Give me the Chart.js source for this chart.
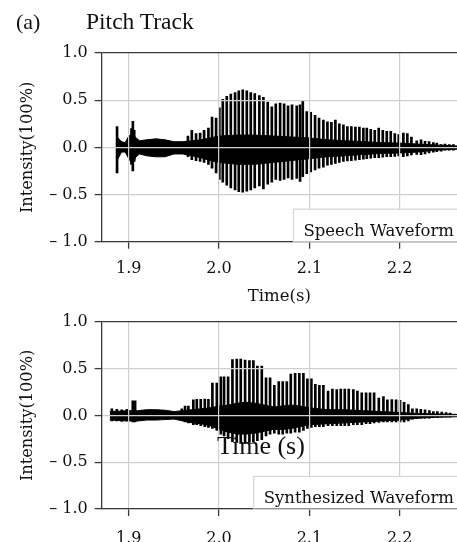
<!DOCTYPE html>
<html>
<head>
<meta charset="utf-8">
<script src="https://cdn.jsdelivr.net/npm/chart.js@4.4.1/dist/chart.umd.min.js"></script>
<style>
  html, body { margin: 0; padding: 0; background: #fff; }
  body { width: 457px; height: 542px; position: relative; overflow: hidden; }
  .box { position: absolute; left: 0; width: 457px; }
  #topBox { top: 0; height: 310px; }
  #botBox { top: 268px; height: 274px; }
  .label { position: absolute; font-family: "Liberation Serif", serif; color: #111; white-space: nowrap; }
</style>
</head>
<body>
<div class="box" id="topBox"><canvas id="speechChart"></canvas></div>
<div class="box" id="botBox"><canvas id="synthChart"></canvas></div>
<div class="label" style="left:16px; top:11px; font-size:22px; line-height:22px;">(a)</div>
<div class="label" style="left:86px; top:10px; font-size:23.5px; line-height:23px;">Pitch Track</div>
<div class="label" style="left:217px; top:433px; font-size:26px; line-height:26px;">Time (s)</div>
<script>
// --- DATA ---
const xTicks = [1.9, 2.0, 2.1, 2.2];
const yTicks = [-1.0, -0.5, 0.0, 0.5, 1.0];
const yTickLabels = ['\u2013 1.0', '\u2013 0.5', '0.0', '0.5', '1.0'];

// Speech waveform: glottal pulse spikes (time, positive peak, negative peak)
const speechPulseTime = [1.8870, 1.9030, 1.9045, 1.9060,
  1.9655, 1.9698, 1.9745, 1.9790, 1.9834, 1.9882, 1.9922, 1.9967, 2.0003, 2.0041,
  2.0085, 2.0130, 2.0177, 2.0218, 2.0262, 2.0307, 2.0351, 2.0395, 2.0446, 2.0491,
  2.0539, 2.0584, 2.0628, 2.0676, 2.0720, 2.0764, 2.0808, 2.0860, 2.0897, 2.0927,
  2.0971, 2.1015, 2.1063, 2.1107, 2.1155, 2.1200, 2.1244, 2.1288, 2.1332, 2.1377,
  2.1421, 2.1465, 2.1510, 2.1554, 2.1598, 2.1636, 2.1680, 2.1724, 2.1768, 2.1813,
  2.1857, 2.1901, 2.1946, 2.1990, 2.2041, 2.2085, 2.2130, 2.2189, 2.2237, 2.2281,
  2.2326, 2.2373, 2.2411, 2.2459, 2.2503, 2.2550, 2.2595];
const speechPulseHigh = [0.22, 0.20, 0.275, 0.18,
  0.12, 0.18, 0.145, 0.15, 0.18, 0.205, 0.32, 0.31, 0.42, 0.51,
  0.54, 0.565, 0.58, 0.60, 0.61, 0.60, 0.58, 0.57, 0.55, 0.53,
  0.48, 0.43, 0.46, 0.47, 0.46, 0.44, 0.45, 0.44, 0.45, 0.49,
  0.38, 0.37, 0.34, 0.31, 0.29, 0.27, 0.265, 0.29, 0.25, 0.24,
  0.22, 0.22, 0.215, 0.215, 0.205, 0.205, 0.19, 0.18, 0.205, 0.18,
  0.17, 0.17, 0.145, 0.135, 0.15, 0.145, 0.11, 0.07, 0.08, 0.065,
  0.06, 0.05, 0.045, 0.03, 0.035, 0.03, 0.03];
const speechPulseLow = [-0.27, -0.18, -0.25, -0.15,
  -0.10, -0.13, -0.14, -0.15, -0.16, -0.18, -0.22, -0.27, -0.34, -0.37,
  -0.40, -0.43, -0.45, -0.47, -0.475, -0.465, -0.45, -0.43, -0.41, -0.44,
  -0.39, -0.37, -0.34, -0.35, -0.34, -0.325, -0.34, -0.33, -0.36, -0.31,
  -0.28, -0.26, -0.24, -0.22, -0.21, -0.19, -0.18, -0.17, -0.16, -0.15,
  -0.145, -0.14, -0.135, -0.13, -0.125, -0.12, -0.115, -0.11, -0.11, -0.105,
  -0.10, -0.10, -0.095, -0.09, -0.10, -0.09, -0.08, -0.075, -0.077, -0.07,
  -0.06, -0.05, -0.045, -0.04, -0.03, -0.03, -0.03];

// Speech waveform: dense band envelope between pulses
const speechBandTime = [1.8865, 1.8880, 1.8920, 1.8960, 1.9000, 1.9040, 1.9080, 1.9120,
  1.9200, 1.9300, 1.9400, 1.9500, 1.9600, 1.9700, 1.9800, 1.9900, 2.0000, 2.0200,
  2.0400, 2.0600, 2.0800, 2.1000, 2.1200, 2.1400, 2.1600, 2.1800, 2.2000, 2.2200,
  2.2400, 2.2635];
const speechBandHigh = [0.02, 0.10, 0.06, 0.05, 0.12, 0.15, 0.10, 0.07,
  0.08, 0.09, 0.08, 0.06, 0.06, 0.07, 0.08, 0.10, 0.12, 0.13,
  0.13, 0.12, 0.11, 0.10, 0.08, 0.07, 0.06, 0.05, 0.045, 0.035,
  0.025, 0.015];
const speechBandLow = [-0.02, -0.12, -0.05, -0.05, -0.12, -0.18, -0.10, -0.07,
  -0.09, -0.10, -0.10, -0.07, -0.07, -0.09, -0.11, -0.14, -0.16, -0.18,
  -0.18, -0.16, -0.14, -0.12, -0.10, -0.09, -0.075, -0.065, -0.06, -0.05,
  -0.03, -0.02];

// Synthesized waveform: pulse spikes
const synthPulseTime = [1.8812, 1.8867, 1.8922, 1.8978, 1.9044, 1.9070,
  1.9587, 1.9623, 1.9660, 1.9715, 1.9753, 1.9797, 1.9842, 1.9882, 1.9926, 1.9975,
  2.0019, 2.0055, 2.0100, 2.0148, 2.0196, 2.0240, 2.0288, 2.0336, 2.0380, 2.0424,
  2.0473, 2.0520, 2.0565, 2.0612, 2.0661, 2.0705, 2.0750, 2.0794, 2.0842, 2.0889,
  2.0934, 2.0978, 2.1022, 2.1066, 2.1111, 2.1155, 2.1207, 2.1255, 2.1303, 2.1348,
  2.1392, 2.1436, 2.1487, 2.1532, 2.1580, 2.1628, 2.1672, 2.1717, 2.1769, 2.1820,
  2.1864, 2.1913, 2.1960, 2.2004, 2.2049, 2.2096, 2.2141, 2.2189, 2.2234, 2.2281,
  2.2329, 2.2373, 2.2417, 2.2466, 2.2514, 2.2558];
const synthPulseHigh = [0.07, 0.065, 0.06, 0.065, 0.155, 0.155,
  0.07, 0.10, 0.10, 0.165, 0.17, 0.17, 0.175, 0.17, 0.345, 0.345,
  0.41, 0.41, 0.41, 0.595, 0.60, 0.60, 0.59, 0.585, 0.585, 0.525,
  0.525, 0.40, 0.40, 0.32, 0.36, 0.36, 0.36, 0.44, 0.45, 0.45,
  0.45, 0.39, 0.39, 0.33, 0.32, 0.32, 0.26, 0.28, 0.275, 0.28,
  0.28, 0.28, 0.275, 0.26, 0.24, 0.24, 0.24, 0.24, 0.185, 0.20,
  0.165, 0.168, 0.165, 0.16, 0.14, 0.115, 0.07, 0.07, 0.065, 0.06,
  0.05, 0.04, 0.04, 0.035, 0.03, 0.025];
const synthPulseLow = [-0.06, -0.06, -0.065, -0.06, -0.07, -0.07,
  -0.05, -0.07, -0.08, -0.10, -0.10, -0.11, -0.12, -0.13, -0.14, -0.16,
  -0.20, -0.22, -0.25, -0.28, -0.29, -0.30, -0.30, -0.29, -0.28, -0.27,
  -0.26, -0.22, -0.20, -0.19, -0.20, -0.20, -0.19, -0.19, -0.18, -0.18,
  -0.16, -0.14, -0.13, -0.12, -0.12, -0.12, -0.11, -0.11, -0.11, -0.11,
  -0.11, -0.11, -0.10, -0.10, -0.10, -0.09, -0.09, -0.08, -0.075, -0.07,
  -0.07, -0.07, -0.07, -0.07, -0.07, -0.06, -0.04, -0.035, -0.03, -0.03,
  -0.03, -0.025, -0.025, -0.02, -0.02, -0.02];

// Synthesized waveform: dense band envelope
const synthBandTime = [1.8790, 1.9000, 1.9100, 1.9200, 1.9300, 1.9400, 1.9500, 1.9600,
  1.9700, 1.9800, 1.9900, 2.0000, 2.0100, 2.0200, 2.0300, 2.0400, 2.0500, 2.0600,
  2.0700, 2.0800, 2.0900, 2.1000, 2.1200, 2.1400, 2.1600, 2.1800, 2.2000, 2.2200,
  2.2400, 2.2635];
const synthBandHigh = [0.04, 0.05, 0.05, 0.06, 0.06, 0.055, 0.04, 0.05,
  0.06, 0.07, 0.08, 0.10, 0.11, 0.13, 0.14, 0.13, 0.11, 0.09,
  0.10, 0.11, 0.10, 0.08, 0.06, 0.06, 0.05, 0.04, 0.03, 0.02,
  0.015, 0.01];
const synthBandLow = [-0.05, -0.06, -0.06, -0.05, -0.05, -0.045, -0.04, -0.06,
  -0.08, -0.09, -0.11, -0.15, -0.18, -0.20, -0.20, -0.19, -0.17, -0.15,
  -0.15, -0.14, -0.12, -0.10, -0.09, -0.08, -0.07, -0.06, -0.05, -0.03,
  -0.02, -0.015];

// --- CHART HELPERS ---
const SERIF = '"DejaVu Serif", serif';
const GRID = '#cfcfcf';
const AXIS = '#3a3a3a';

const legendBoxPlugin = {
  id: 'legendBox',
  afterDraw(chart, args, opts) {
    const {ctx, chartArea} = chart;
    ctx.save();
    ctx.font = '16.5px ' + SERIF;
    const w = ctx.measureText(opts.text).width;
    const x0 = chartArea.right - w - 13;
    const y0 = chartArea.bottom - 32.5;
    ctx.fillStyle = '#fff';
    ctx.fillRect(x0, y0, chartArea.right - x0, chartArea.bottom - y0 - 1);
    ctx.strokeStyle = '#d6d6d6';
    ctx.lineWidth = 1.2;
    ctx.strokeRect(x0, y0, chartArea.right - x0 + 2, chartArea.bottom - y0);
    ctx.fillStyle = '#111';
    ctx.textBaseline = 'alphabetic';
    ctx.fillText(opts.text, x0 + 10, chartArea.bottom - 6);
    ctx.restore();
  }
};

function makeChart(id, pTime, pHigh, pLow, bTime, bHigh, bLow, legendText, padTop, xHeight, xPad, showXTitle) {
  return new Chart(document.getElementById(id), {
    type: 'bar',
    data: {
      datasets: [
        {
          type: 'line',
          data: bTime.map((t, i) => ({x: t, y: bHigh[i]})),
          borderColor: '#000', backgroundColor: '#000', borderWidth: 1,
          pointRadius: 0, tension: 0, fill: '+1'
        },
        {
          type: 'line',
          data: bTime.map((t, i) => ({x: t, y: bLow[i]})),
          borderColor: '#000', borderWidth: 1, pointRadius: 0, tension: 0, fill: false
        },
        {
          type: 'bar',
          data: pTime.map((t, i) => ({x: t, y: [pLow[i], pHigh[i]]})),
          backgroundColor: '#000', barThickness: 2, grouped: false
        }
      ]
    },
    options: {
      responsive: true,
      maintainAspectRatio: false,
      animation: false,
      layout: { padding: { top: padTop, left: 0, right: 0, bottom: 0 } },
      plugins: {
        legend: { display: false },
        tooltip: { enabled: false },
        legendBox: { text: legendText }
      },
      scales: {
        x: {
          type: 'linear', min: 1.87, max: 2.2635, offset: false,
          afterFit: s => { s.height = xHeight; },
          grid: { z: 1, offset: false, color: GRID, lineWidth: 1.2, tickLength: 7, tickColor: AXIS, tickWidth: 1.3 },
          border: { z: 2, color: AXIS, width: 1.3 },
          afterBuildTicks: s => { s.ticks = xTicks.map(v => ({value: v})); },
          ticks: {
            includeBounds: false, autoSkip: false, maxRotation: 0, padding: xPad,
            color: '#111', font: { family: SERIF, size: 16 },
            callback: v => v.toFixed(1)
          },
          title: { display: showXTitle, text: 'Time(s)', color: '#111', font: { family: SERIF, size: 16.5 }, padding: { top: 0, bottom: 3 } }
        },
        y: {
          min: -1, max: 1,
          afterFit: s => { s.width = 101.7; },
          afterBuildTicks: s => { s.ticks = yTicks.map(v => ({value: v})); },
          grid: {
            z: 1, lineWidth: 1.2, tickLength: 7, tickColor: AXIS, tickWidth: 1.3,
            color: c => (c.tick && c.tick.value === 1 ? AXIS : GRID)
          },
          border: { z: 2, color: AXIS, width: 1.3 },
          ticks: {
            padding: 7, color: '#111', font: { family: SERIF, size: 16 },
            callback: (v, i) => yTickLabels[i]
          },
          title: { display: true, text: 'Intensity(100%)', color: '#111', font: { family: SERIF, size: 16.2 }, padding: { top: 18, bottom: 0 } }
        }
      }
    },
    plugins: [legendBoxPlugin]
  });
}

makeChart('speechChart', speechPulseTime, speechPulseHigh, speechPulseLow,
  speechBandTime, speechBandHigh, speechBandLow, 'Speech Waveform', 53, 68.3, 11, true);
makeChart('synthChart', synthPulseTime, synthPulseHigh, synthPulseLow,
  synthBandTime, synthBandHigh, synthBandLow, 'Synthesized Waveform', 53.7, 33, 13.5, false);
</script>
</body>
</html>
